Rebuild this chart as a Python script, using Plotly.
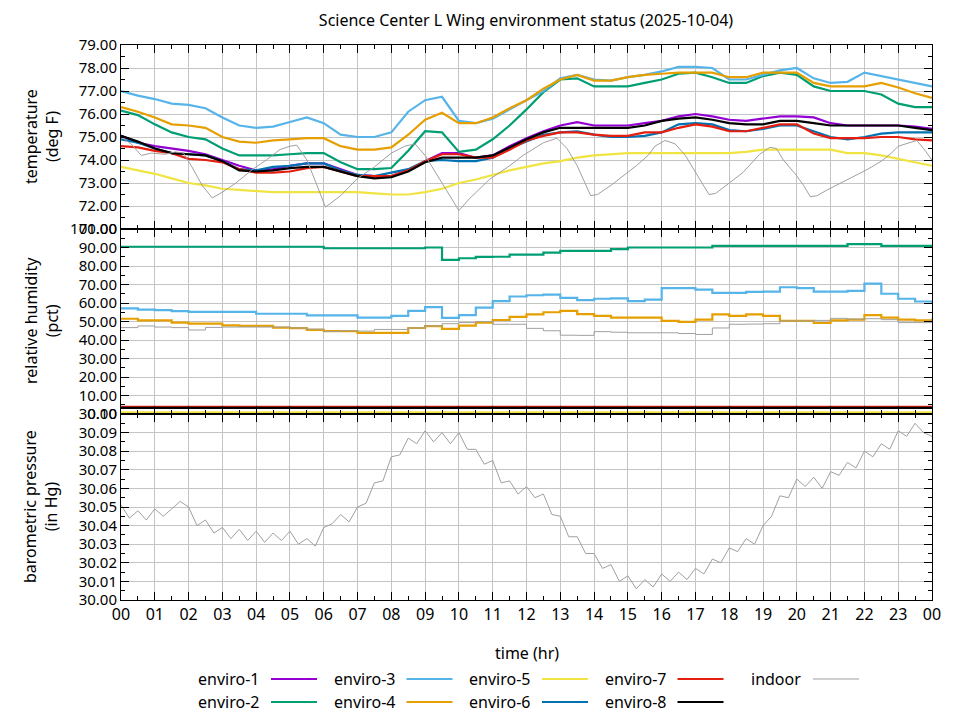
import plotly.graph_objects as go

# 데이터: 반시간 간격 센서 기록 (00:00 ~ 24:00)
HOURS = [h / 2 for h in range(49)]
TICK_HOURS = list(range(25))
TICK_LABELS = ["00", "01", "02", "03", "04", "05", "06", "07", "08", "09", "10", "11",
               "12", "13", "14", "15", "16", "17", "18", "19", "20", "21", "22", "23", "00"]

SERIES = ["enviro-1", "enviro-2", "enviro-3", "enviro-4",
          "enviro-5", "enviro-6", "enviro-7", "enviro-8"]
COLORS = {
    "enviro-1": "#9400d3", "enviro-2": "#009e73", "enviro-3": "#56b4e9",
    "enviro-4": "#e69f00", "enviro-5": "#f0e442", "enviro-6": "#0072b2",
    "enviro-7": "#e51e10", "enviro-8": "#000000", "indoor": "#a0a0a0",
}

# 온도 (deg F)
temp_e1 = [75.05, 74.75, 74.6, 74.5, 74.4, 74.25, 74.0, 73.75, 73.55, 73.6, 73.75, 73.85,
           73.85, 73.6, 73.35, 73.3, 73.3, 73.55, 73.95, 74.3, 74.3, 74.1, 74.2, 74.6,
           74.95, 75.25, 75.5, 75.65, 75.5, 75.5, 75.5, 75.6, 75.7, 75.9, 76.0, 75.9,
           75.75, 75.7, 75.8, 75.9, 75.9, 75.85, 75.6, 75.5, 75.5, 75.5, 75.5, 75.45, 75.35]
temp_e2 = [76.15, 75.95, 75.55, 75.2, 75.0, 74.9, 74.5, 74.2, 74.2, 74.2, 74.25, 74.3,
           74.3, 73.9, 73.6, 73.6, 73.65, 74.4, 75.25, 75.2, 74.35, 74.45, 74.9, 75.5,
           76.2, 76.95, 77.5, 77.55, 77.2, 77.2, 77.2, 77.35, 77.5, 77.75, 77.8, 77.6,
           77.35, 77.35, 77.65, 77.8, 77.7, 77.2, 77.0, 77.0, 77.0, 76.85, 76.45, 76.3, 76.3]
temp_e3 = [77.0, 76.8, 76.65, 76.45, 76.4, 76.25, 75.85, 75.5, 75.4, 75.45, 75.65, 75.85,
           75.6, 75.1, 75.0, 75.0, 75.2, 76.1, 76.6, 76.75, 75.7, 75.6, 75.8, 76.2,
           76.6, 77.0, 77.55, 77.7, 77.5, 77.45, 77.6, 77.7, 77.85, 78.05, 78.05, 78.0,
           77.5, 77.5, 77.7, 77.9, 78.0, 77.55, 77.35, 77.4, 77.8, 77.65, 77.5, 77.35, 77.2]
temp_e4 = [76.3, 76.1, 75.85, 75.55, 75.5, 75.4, 75.0, 74.8, 74.75, 74.85, 74.9, 74.95,
           74.95, 74.6, 74.45, 74.45, 74.55, 75.1, 75.75, 76.05, 75.6, 75.6, 75.85, 76.25,
           76.6, 77.1, 77.5, 77.7, 77.45, 77.45, 77.6, 77.7, 77.75, 77.8, 77.8, 77.8,
           77.6, 77.6, 77.8, 77.8, 77.8, 77.35, 77.2, 77.2, 77.2, 77.35, 77.15, 76.9, 76.7]
temp_e5 = [73.7, 73.55, 73.4, 73.2, 73.0, 72.9, 72.75, 72.7, 72.65, 72.6, 72.6, 72.6,
           72.6, 72.6, 72.6, 72.55, 72.5, 72.5, 72.6, 72.75, 73.0, 73.15, 73.35, 73.55,
           73.7, 73.85, 73.95, 74.1, 74.2, 74.25, 74.3, 74.3, 74.3, 74.3, 74.3, 74.3,
           74.3, 74.35, 74.45, 74.45, 74.45, 74.45, 74.45, 74.3, 74.3, 74.2, 74.05, 73.9, 73.75]
temp_e6 = [74.9, 74.75, 74.5, 74.3, 74.25, 74.2, 73.95, 73.6, 73.55, 73.7, 73.75, 73.85,
           73.85, 73.55, 73.35, 73.3, 73.45, 73.6, 73.95, 74.0, 73.95, 73.95, 74.1, 74.5,
           74.8, 75.1, 75.2, 75.25, 75.1, 75.0, 75.0, 75.05, 75.2, 75.55, 75.6, 75.55,
           75.3, 75.25, 75.35, 75.5, 75.5, 75.25, 75.0, 74.9, 75.0, 75.15, 75.2, 75.2, 75.2]
temp_e7 = [74.6, 74.55, 74.4, 74.3, 74.05, 74.0, 73.9, 73.6, 73.45, 73.45, 73.5, 73.65,
           73.7, 73.5, 73.3, 73.3, 73.3, 73.55, 73.95, 74.25, 74.25, 74.1, 74.1, 74.45,
           74.85, 75.05, 75.2, 75.2, 75.1, 75.05, 75.05, 75.2, 75.2, 75.4, 75.55, 75.45,
           75.25, 75.25, 75.4, 75.55, 75.55, 75.15, 74.95, 74.95, 74.95, 75.0, 75.0, 74.9, 74.85]
temp_e8 = [75.05, 74.8, 74.5, 74.3, 74.25, 74.2, 73.95, 73.55, 73.5, 73.55, 73.65, 73.7,
           73.7, 73.5, 73.3, 73.2, 73.25, 73.5, 73.9, 74.1, 74.1, 74.1, 74.2, 74.55,
           74.9, 75.2, 75.4, 75.4, 75.4, 75.4, 75.4, 75.5, 75.7, 75.8, 75.85, 75.75,
           75.6, 75.55, 75.55, 75.7, 75.7, 75.6, 75.5, 75.5, 75.5, 75.5, 75.5, 75.4, 75.3]

# 실내 온도는 불규칙한 시각에 기록됨
indoor_temp_hr = [0, 0.3, 0.6, 0.9, 1.3, 1.6, 1.85, 2.1, 2.4, 2.7, 3.0, 3.4, 3.9, 4.3, 4.7,
                  5.0, 5.2, 5.5, 5.8, 6.05, 6.5, 7.0, 7.5, 8.0, 8.4, 8.7, 9.0, 9.5, 10.0,
                  10.3, 10.9, 11.5, 11.9, 12.5, 12.9, 13.2, 13.5, 13.9, 14.1, 14.5, 15.25,
                  15.6, 15.8, 16.1, 16.4, 16.7, 17.1, 17.4, 17.6, 17.9, 18.4, 18.9, 19.2,
                  19.4, 19.6, 19.95, 20.2, 20.4, 20.6, 20.9, 21.3, 22.1, 22.5, 22.8, 23.0,
                  23.55, 23.75, 24.0]
indoor_temp = [75.0, 74.7, 74.2, 74.3, 74.25, 74.35, 74.3, 73.7, 72.9, 72.35, 72.6, 73.0,
               73.6, 74.0, 74.45, 74.6, 74.65, 74.0, 72.9, 71.95, 72.45, 73.2, 73.7, 74.3,
               74.6, 74.7, 74.2, 73.0, 71.8, 72.3, 73.15, 73.75, 74.2, 74.75, 74.95, 74.5,
               73.75, 72.45, 72.5, 72.9, 73.75, 74.2, 74.6, 74.85, 74.7, 74.2, 73.2, 72.5,
               72.55, 72.9, 73.45, 74.25, 74.55, 74.5, 74.0, 73.4, 72.9, 72.4, 72.45, 72.7,
               73.0, 73.6, 73.95, 74.3, 74.6, 74.85, 74.5, 74.0]

# 상대습도 (pct)
hum_e2 = [90.4, 90.4, 90.4, 90.4, 90.4, 90.4, 90.4, 90.4, 90.4, 90.4, 90.4, 90.4,
          89.6, 89.6, 89.6, 89.6, 89.6, 89.6, 90.0, 83.3, 84.2, 84.9, 85.0, 86.1,
          86.1, 87.2, 88.2, 88.2, 88.2, 89.1, 90.0, 90.0, 90.0, 90.0, 90.0, 90.9,
          90.9, 90.9, 90.9, 90.9, 90.9, 90.9, 90.9, 91.8, 91.8, 90.9, 90.9, 90.9, 90.9]
hum_e3 = [57.1, 56.4, 56.1, 55.6, 55.2, 55.2, 55.2, 55.2, 54.2, 54.2, 54.2, 53.3,
          53.3, 53.3, 52.1, 52.1, 53.0, 55.7, 57.8, 52.0, 53.5, 57.5, 61.0, 63.5,
          64.2, 64.5, 62.8, 61.5, 62.3, 62.5, 61.0, 61.8, 68.0, 68.0, 67.2, 65.5,
          65.5, 66.0, 66.2, 68.5, 68.0, 66.2, 66.2, 66.5, 70.5, 65.0, 62.3, 60.8, 59.5]
hum_e4 = [51.5, 50.6, 50.6, 49.4, 48.8, 48.8, 47.9, 47.6, 47.6, 46.7, 46.4, 45.5,
          44.8, 44.8, 43.9, 43.9, 43.9, 46.5, 47.5, 46.0, 47.8, 49.4, 50.8, 52.5,
          53.9, 55.0, 55.7, 54.0, 53.0, 52.1, 52.1, 52.1, 50.3, 49.8, 51.0, 53.9,
          53.0, 53.9, 53.0, 50.3, 50.3, 49.2, 50.6, 51.0, 53.5, 52.1, 51.0, 50.6, 49.9]
hum_indoor = [46.7, 47.6, 47.0, 46.7, 45.4, 46.8, 47.0, 47.0, 47.0, 47.0, 46.5, 45.9,
              44.6, 45.0, 44.8, 45.7, 45.7, 46.5, 47.6, 48.8, 49.4, 49.9, 48.5, 48.5,
              46.3, 45.0, 42.6, 42.5, 44.5, 44.2, 43.9, 43.9, 43.9, 43.5, 43.0, 46.5,
              48.5, 48.6, 48.8, 50.3, 50.3, 50.6, 51.7, 51.3, 51.5, 51.0, 49.4, 49.4, 52.0]
# 일부 센서는 습도가 바닥에 붙어 있음 (시작/끝 두 점)
hum_flat_hr = [0, 24]
hum_e1 = [3.6, 3.6]
hum_e5 = [0.9, 0.9]
hum_e6 = [3.4, 3.4]
hum_e7 = [3.9, 3.9]
hum_e8 = [3.3, 3.3]

# 기압 (in Hg), 15분 간격, 실내 센서만
PRESSURE_HR = [q / 4 for q in range(97)]
pressure = [30.051, 30.044, 30.048, 30.043, 30.049, 30.045, 30.049, 30.053, 30.050, 30.040,
            30.043, 30.036, 30.039, 30.033, 30.038, 30.032, 30.037, 30.031, 30.036, 30.032,
            30.037, 30.030, 30.033, 30.029, 30.039, 30.041, 30.046, 30.042, 30.050, 30.052,
            30.063, 30.064, 30.077, 30.078, 30.087, 30.084, 30.091, 30.085, 30.090, 30.084,
            30.090, 30.081, 30.081, 30.073, 30.075, 30.063, 30.064, 30.057, 30.061, 30.055,
            30.057, 30.046, 30.045, 30.034, 30.034, 30.025, 30.025, 30.017, 30.019, 30.010,
            30.013, 30.006, 30.011, 30.007, 30.014, 30.010, 30.015, 30.011, 30.017, 30.014,
            30.022, 30.020, 30.028, 30.026, 30.033, 30.030, 30.040, 30.045, 30.056, 30.055,
            30.065, 30.061, 30.066, 30.060, 30.069, 30.067, 30.074, 30.071, 30.080, 30.077,
            30.084, 30.081, 30.091, 30.088, 30.095, 30.090, 30.088]

TEMP = [temp_e1, temp_e2, temp_e3, temp_e4, temp_e5, temp_e6, temp_e7, temp_e8]
HUM = {"enviro-1": (hum_flat_hr, hum_e1), "enviro-2": (HOURS, hum_e2),
       "enviro-3": (HOURS, hum_e3), "enviro-4": (HOURS, hum_e4),
       "enviro-5": (hum_flat_hr, hum_e5), "enviro-6": (hum_flat_hr, hum_e6),
       "enviro-7": (hum_flat_hr, hum_e7), "enviro-8": (hum_flat_hr, hum_e8)}

FONT = "Noto Sans"
FS = 16        # 제목, 범례, x축 눈금
FS_Y = 15      # y축 눈금 (간격이 좁아 한 단계 작게)
GRID = "#c4c4c4"

fig = go.Figure()

# 1. 온도 패널
for name, vals in zip(SERIES, TEMP):
    fig.add_trace(go.Scatter(x=HOURS, y=vals, mode="lines",
                             line=dict(color=COLORS[name], width=2.2),
                             name=name, xaxis="x", yaxis="y", showlegend=False))
fig.add_trace(go.Scatter(x=indoor_temp_hr, y=indoor_temp, mode="lines",
                         line=dict(color=COLORS["indoor"], width=1),
                         name="indoor", xaxis="x", yaxis="y", showlegend=False))

# 2. 습도 패널
for name in SERIES:
    hx, hy = HUM[name]
    fig.add_trace(go.Scatter(x=hx, y=hy, mode="lines", line_shape="hv",
                             line=dict(color=COLORS[name], width=2.2),
                             name=name, xaxis="x2", yaxis="y2", showlegend=False))
fig.add_trace(go.Scatter(x=HOURS, y=hum_indoor, mode="lines", line_shape="hv",
                         line=dict(color=COLORS["indoor"], width=1),
                         name="indoor", xaxis="x2", yaxis="y2", showlegend=False))

# 3. 기압 패널
fig.add_trace(go.Scatter(x=PRESSURE_HR, y=pressure, mode="lines",
                         line=dict(color=COLORS["indoor"], width=1),
                         name="indoor", xaxis="x3", yaxis="y3", showlegend=False))

# 화면 기준 플롯 영역: x 121~932, y 45~600 (페이지 body 여백 8px 보정)
PAGE = 8
SX0, SX1, SY0, SY1 = 121, 932, 45, 600
L, T = SX0 - PAGE, SY0 - PAGE
R, B = 960 - (SX1 - PAGE), 720 - (SY1 - PAGE)
PW, PH = SX1 - SX0, SY1 - SY0


def px_x(px):
    return (px - SX0) / PW


def px_y(py):
    return (SY1 - py) / PH


def x_axis(anchor, labels):
    return dict(anchor=anchor, domain=[0, 1], range=[0, 24],
                tickmode="array", tickvals=TICK_HOURS, ticktext=TICK_LABELS,
                showticklabels=labels, ticks="inside", ticklen=8, tickcolor="black",
                minor=dict(ticks="inside", ticklen=4, tickmode="linear", tick0=0, dtick=0.5,
                           tickcolor="black", showgrid=False),
                showline=True, linecolor="black", mirror="allticks",
                showgrid=True, gridcolor=GRID, zeroline=False,
                tickfont=dict(size=FS, color="black"))


def y_axis(domain, rng, dtick, minor_dtick):
    return dict(domain=domain, range=rng, tickmode="linear", tick0=rng[0], dtick=dtick,
                tickformat=".2f", ticks="inside", ticklen=8, tickcolor="black",
                minor=dict(ticks="inside", ticklen=4, tickmode="linear", tick0=rng[0],
                           dtick=minor_dtick, tickcolor="black", showgrid=False),
                showline=True, linecolor="black", mirror="allticks",
                showgrid=True, gridcolor=GRID, zeroline=False,
                tickfont=dict(size=FS_Y, color="black"))


fig.update_layout(
    width=960, height=720,
    margin=dict(l=L, r=R, t=T, b=B),
    plot_bgcolor="white", paper_bgcolor="white",
    font=dict(family=FONT, size=FS, color="black"),
    title=dict(text="Science Center L Wing environment status (2025-10-04)",
               x=(526 - PAGE) / 960, xanchor="center", y=1 - (20 - PAGE) / 720,
               yanchor="middle", font=dict(size=FS, color="black")),
    xaxis=x_axis("y", False),
    xaxis2=dict(x_axis("y2", False), matches="x"),
    xaxis3=dict(x_axis("y3", True), matches="x"),
    yaxis=y_axis([px_y(229), 1], [71, 79], 1, 0.5),
    yaxis2=y_axis([px_y(414), px_y(229)], [0, 100], 10, 5),
    yaxis3=y_axis([0, px_y(414)], [30.0, 30.1], 0.01, 0.005),
    showlegend=False,
)

# 축 제목
axis_titles = [("temperature<br>(deg F)", 137), ("relative humidity<br>(pct)", 321),
               ("barometric pressure<br>(in Hg)", 507)]
for text, cy in axis_titles:
    fig.add_annotation(text=text, textangle=-90, xref="paper", yref="paper",
                       x=px_x(41), y=px_y(cy), xanchor="center", yanchor="middle",
                       showarrow=False, font=dict(size=FS, color="black"))
fig.add_annotation(text="time (hr)", xref="paper", yref="paper", x=0.5, y=px_y(653),
                   xanchor="center", yanchor="middle", showarrow=False,
                   font=dict(size=FS, color="black"))

# gnuplot 스타일 범례: 글자 뒤에 선 샘플
legend_names = SERIES + ["indoor"]
for idx, name in enumerate(legend_names):
    col, row = divmod(idx, 2)
    right = 261 + col * 135.5
    cy = 679 + row * 23
    fig.add_annotation(text=name, xref="paper", yref="paper", x=px_x(right), y=px_y(cy),
                       xanchor="right", yanchor="middle", showarrow=False,
                       font=dict(size=FS, color="black"))
    fig.add_shape(type="line", xref="paper", yref="paper",
                  x0=px_x(right + 10), x1=px_x(right + 56), y0=px_y(cy), y1=px_y(cy),
                  line=dict(color=COLORS[name], width=2 if name != "indoor" else 1))

fig.write_html("out.html")
